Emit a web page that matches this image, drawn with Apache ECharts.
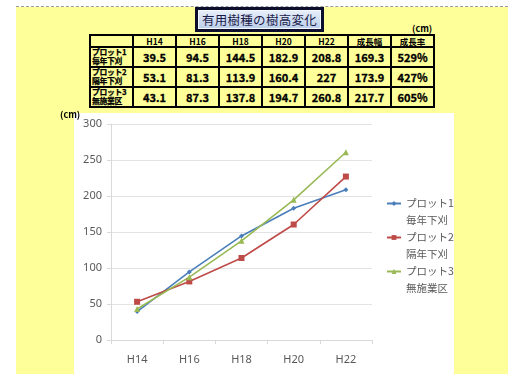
<!DOCTYPE html>
<html>
<head>
<meta charset="utf-8">
<script src="https://cdn.jsdelivr.net/npm/echarts@6/dist/echarts.min.js"></script>
<style>
  html, body { margin: 0; padding: 0; width: 508px; height: 374px; overflow: hidden; background: #fff; }
  #dash { position: absolute; left: 16px; top: 6px; width: 492px; border-top: 1px dashed #9a9a9a; }
  #bg { position: absolute; left: 16px; top: 7px; width: 492px; height: 367px; background: #ffff99; }
  #title { position: absolute; left: 195px; top: 7px; width: 123px; height: 19px; border: 3px solid #0d0d2e;
    background: linear-gradient(#e9f0fa, #b9cde9); box-shadow: inset 0 0 0 1px #f4f8ff;
    font-family: "Noto Sans CJK JP", sans-serif; font-size: 12.5px; color: #1b1b4a; text-align: center; line-height: 19px; letter-spacing: 0.3px; }
  .unit { position: absolute; font-family: "Noto Sans CJK JP", sans-serif; font-weight: bold; font-size: 9px; color: #000; line-height: 10px; }
  #tbl { position: absolute; left: 89px; top: 34px; border-collapse: collapse; border: 2px solid #000; }
  #tbl td { border: 2px solid #000; padding: 0; text-align: center; font-family: "Noto Sans CJK JP", sans-serif; font-weight: bold; color: #000; }
  #tbl tr.h td { height: 10px; font-size: 8.5px; line-height: 10px; }
  #tbl tr.d td { height: 18px; font-size: 11px; line-height: 18px; -webkit-text-stroke: 0.3px #000; }
  #tbl tr.d td.lab { font-size: 7.8px; line-height: 8.8px; text-align: left; padding-left: 1px; letter-spacing: -0.3px; -webkit-text-stroke: 0.25px #000; }
  #chart { position: absolute; left: 74px; top: 113px; width: 380px; height: 261px; background: #fff; }
</style>
</head>
<body>
<div id="dash"></div>
<div id="bg"></div>
<div id="title">有用樹種の樹高変化</div>
<div class="unit" style="left:412px; top:24px;">(cm)</div>
<table id="tbl"></table>
<div id="chart"></div>
<div class="unit" style="left:60px; top:110px;">(cm)</div>
<script>
const categories = ['H14', 'H16', 'H18', 'H20', 'H22'];
const seriesNames = ['プロット1', 'プロット2', 'プロット3'];
const subNames = ['毎年下刈', '隔年下刈', '無施業区'];
const plot1 = [39.5, 94.5, 144.5, 182.9, 208.8];
const plot2 = [53.1, 81.3, 113.9, 160.4, 227];
const plot3 = [43.1, 87.3, 137.8, 194.7, 260.8];
const growthWidth = ['169.3', '173.9', '217.7'];
const growthRate = ['529%', '427%', '605%'];
const extraHeaders = ['成長幅', '成長率'];
const colors = ['#4a7ebb', '#be4b48', '#98b954'];
const symbols = ['diamond', 'rect', 'triangle'];

// table
const tbl = document.getElementById('tbl');
const colW = [41, 41, 41, 41, 41, 41, 41, 41];
let html = '<tr class="h"><td style="width:' + colW[0] + 'px"></td>';
categories.concat(extraHeaders).forEach((c, i) => { html += '<td style="width:' + colW[i + 1] + 'px">' + c + '</td>'; });
html += '</tr>';
const allSeries = [plot1, plot2, plot3];
allSeries.forEach((vals, r) => {
  html += '<tr class="d"><td class="lab">' + seriesNames[r] + '<br>' + subNames[r] + '</td>';
  vals.forEach(v => { html += '<td>' + v + '</td>'; });
  html += '<td>' + growthWidth[r] + '</td><td>' + growthRate[r] + '</td></tr>';
});
tbl.innerHTML = html;

// chart
const chart = echarts.init(document.getElementById('chart'), null, { renderer: 'canvas' });
const fam = '"Noto Sans", "Liberation Sans", sans-serif';
chart.setOption({
  animation: false,
  backgroundColor: '#fff',
  grid: { left: 37, top: 11, width: 261, height: 216 },
  xAxis: {
    type: 'category', data: categories, boundaryGap: true,
    axisLine: { lineStyle: { color: '#d9d9d9', width: 1 } },
    axisTick: { show: true, length: 4, lineStyle: { color: '#d9d9d9' } },
    axisLabel: { color: '#595959', fontSize: 11, fontFamily: fam, margin: 14 }
  },
  yAxis: {
    type: 'value', min: 0, max: 300, interval: 50,
    axisLine: { show: true, lineStyle: { color: '#d9d9d9', width: 1 } },
    axisTick: { show: true, length: 4, lineStyle: { color: '#d9d9d9' } },
    axisLabel: { color: '#595959', fontSize: 11, fontFamily: fam, margin: 9 },
    splitLine: { lineStyle: { color: '#e3e3e3', width: 1 } }
  },
  legend: {
    orient: 'vertical', left: 307, top: 60,
    itemWidth: 14, itemHeight: 6, itemGap: -17,
    data: seriesNames,
    formatter: function (name) { return '{a|' + name + '}\n{b|' + subNames[seriesNames.indexOf(name)] + '}'; },
    textStyle: {
      padding: [17, 0, 0, 0], lineHeight: 17,
      rich: {
        a: { fontSize: 10.5, lineHeight: 17, color: '#595959', fontFamily: '"Noto Sans CJK JP", sans-serif' },
        b: { fontSize: 10.5, lineHeight: 17, color: '#595959', fontFamily: '"Noto Sans CJK JP", sans-serif' }
      }
    }
  },
  series: [plot1, plot2, plot3].map((d, i) => ({
    name: seriesNames[i], type: 'line', data: d,
    symbol: symbols[i], symbolSize: i === 0 ? 5 : 6, showSymbol: true,
    itemStyle: { color: colors[i] },
    lineStyle: { color: colors[i], width: 1.6 }
  }))
});
</script>
</body>
</html>
